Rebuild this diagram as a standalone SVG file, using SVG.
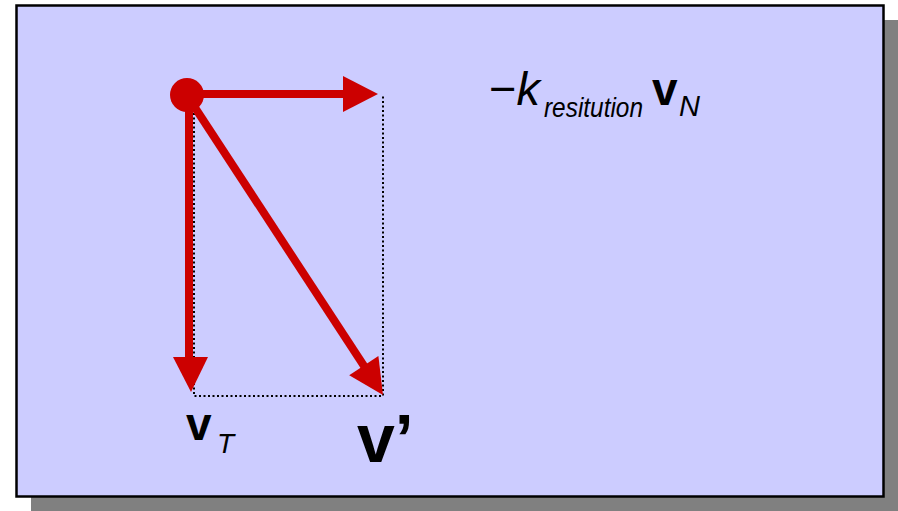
<svg xmlns="http://www.w3.org/2000/svg" width="898" height="511" viewBox="0 0 898 511">
  <style>
    .vec { stroke: #CC0000; stroke-width: 8; fill: none; }
    .head { fill: #CC0000; stroke: none; }
    .dot { stroke: #000; stroke-width: 2; stroke-dasharray: 2 2.5; fill: none; }
    .bold { font-family: "Liberation Sans", Arial, sans-serif; font-weight: bold; fill: #000; }
    .ital { font-family: "Liberation Sans", Arial, sans-serif; font-style: italic; fill: #000; }
  </style>
  <g id="frame">
    <rect x="31" y="20" width="867" height="491" fill="#808080"/>
    <rect x="16.5" y="5.5" width="867" height="491" fill="#CCCCFF" stroke="#000" stroke-width="2.5"/>
  </g>
  <g id="connectors">
    <path class="dot" d="M194 113 V396 H383 V95"/>
    <line class="vec" x1="187" y1="94" x2="346" y2="94"/>
    <polygon class="head" points="343,76 378,94 343,112"/>
    <line class="vec" x1="189" y1="95" x2="189" y2="360"/>
    <polygon class="head" points="173,357 208,357 191,392"/>
    <line class="vec" x1="190" y1="100" x2="366" y2="369"/>
    <polygon class="head" points="378.4,356.1 383,395 349.2,375.3"/>
  </g>
  <g id="origin">
    <circle cx="187" cy="95" r="17" fill="#CC0000"/>
  </g>
  <g id="label-vT">
    <text x="186" y="440" class="bold" font-size="46">v</text>
    <text x="217" y="453" class="ital" font-size="28">T</text>
  </g>
  <g id="label-vprime">
    <text x="357" y="462" class="bold" font-size="68">v’</text>
  </g>
  <g id="label-restitution">
    <text x="489" y="105" class="ital" font-size="47"><tspan font-style="normal">−</tspan>k</text>
    <text x="544" y="117" class="ital" font-size="28" textLength="99" lengthAdjust="spacingAndGlyphs">resitution</text>
    <text x="652" y="105" class="bold" font-size="46">v</text>
    <text x="679" y="116" class="ital" font-size="29">N</text>
  </g>
</svg>
